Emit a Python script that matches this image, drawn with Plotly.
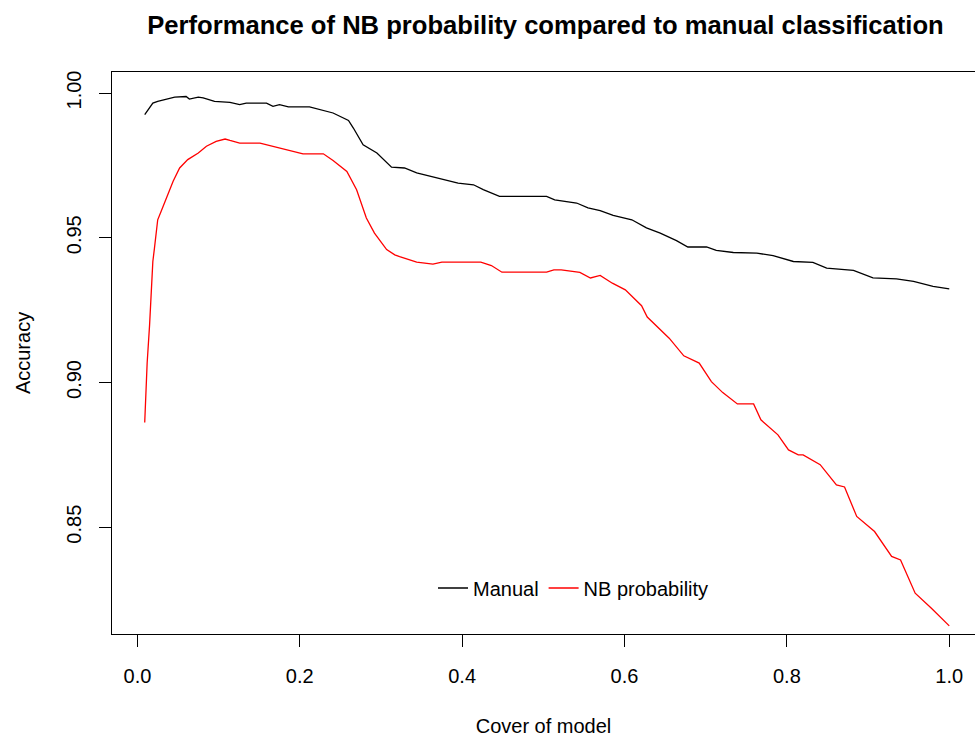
import plotly.graph_objects as go

# ---- Data ----
manual_x = [0.009, 0.019, 0.025, 0.034, 0.046, 0.060, 0.064, 0.075, 0.081, 0.095,
            0.114, 0.126, 0.134, 0.159, 0.167, 0.175, 0.186, 0.212, 0.225, 0.241,
            0.260, 0.266, 0.278, 0.295, 0.313, 0.329, 0.344, 0.364, 0.381, 0.395,
            0.414, 0.426, 0.446, 0.504, 0.514, 0.541, 0.555, 0.570, 0.586, 0.609,
            0.627, 0.644, 0.664, 0.678, 0.701, 0.713, 0.734, 0.763, 0.783, 0.808,
            0.832, 0.849, 0.882, 0.906, 0.935, 0.956, 0.980, 1.000]
manual_y = [0.9925, 0.9965, 0.9971, 0.9977, 0.9986, 0.9988, 0.9979, 0.9986, 0.9983, 0.9971,
            0.9968, 0.9960, 0.9965, 0.9965, 0.9954, 0.9960, 0.9952, 0.9952, 0.9942, 0.9931,
            0.9905, 0.9879, 0.9821, 0.9793, 0.9744, 0.9741, 0.9724, 0.9710, 0.9700, 0.9689,
            0.9683, 0.9666, 0.9643, 0.9643, 0.9631, 0.9620, 0.9603, 0.9594, 0.9577, 0.9562,
            0.9534, 0.9516, 0.9490, 0.9468, 0.9468, 0.9456, 0.9449, 0.9447, 0.9438, 0.9418,
            0.9415, 0.9395, 0.9387, 0.9361, 0.9358, 0.9349, 0.9332, 0.9323]

nb_x = [0.009, 0.010, 0.012, 0.015, 0.017, 0.019, 0.021, 0.025, 0.030, 0.036,
        0.044, 0.052, 0.062, 0.075, 0.085, 0.097, 0.108, 0.114, 0.126, 0.151,
        0.175, 0.192, 0.204, 0.229, 0.241, 0.258, 0.270, 0.282, 0.292, 0.307,
        0.317, 0.323, 0.344, 0.364, 0.375, 0.423, 0.436, 0.449, 0.504, 0.513,
        0.522, 0.545, 0.558, 0.570, 0.585, 0.601, 0.621, 0.628, 0.655, 0.673,
        0.692, 0.707, 0.721, 0.739, 0.759, 0.768, 0.789, 0.802, 0.814, 0.820,
        0.841, 0.861, 0.871, 0.886, 0.908, 0.929, 0.940, 0.958, 0.978, 1.000]
nb_y = [0.8862, 0.8931, 0.9067, 0.9199, 0.9332, 0.9418, 0.9464, 0.9562, 0.9597, 0.9637,
        0.9695, 0.9741, 0.9770, 0.9793, 0.9816, 0.9833, 0.9841, 0.9836, 0.9827, 0.9827,
        0.9810, 0.9798, 0.9790, 0.9790, 0.9767, 0.9729, 0.9666, 0.9568, 0.9516, 0.9459,
        0.9441, 0.9435, 0.9416, 0.9409, 0.9416, 0.9416, 0.9404, 0.9381, 0.9381, 0.9389,
        0.9389, 0.9380, 0.9361, 0.9370, 0.9343, 0.9320, 0.9265, 0.9226, 0.9153, 0.9092,
        0.9067, 0.9003, 0.8965, 0.8926, 0.8926, 0.8871, 0.8819, 0.8767, 0.8750, 0.8750,
        0.8716, 0.8646, 0.8639, 0.8537, 0.8485, 0.8399, 0.8387, 0.8272, 0.8220, 0.8159]

x_ticks = [0.0, 0.2, 0.4, 0.6, 0.8, 1.0]
x_tick_labels = ["0.0", "0.2", "0.4", "0.6", "0.8", "1.0"]
y_ticks = [0.85, 0.90, 0.95, 1.00]
y_tick_labels = ["0.85", "0.90", "0.95", "1.00"]

FONT = "Liberation Sans, Arial, sans-serif"

fig = go.Figure()
fig.add_trace(go.Scatter(x=manual_x, y=manual_y, mode="lines", name="Manual",
                         line=dict(color="black", width=1.3)))
fig.add_trace(go.Scatter(x=nb_x, y=nb_y, mode="lines", name="NB probability",
                         line=dict(color="#ff0000", width=1.3)))

fig.update_layout(
    width=975, height=737,
    margin=dict(l=112, r=0, t=72, b=103),
    paper_bgcolor="white", plot_bgcolor="white",
    font=dict(family=FONT, size=20, color="black"),
    title=dict(text="<b>Performance of NB probability compared to manual classification</b>",
               xref="container", x=545.5 / 975, xanchor="center",
               yref="container", y=1 - 25 / 737, yanchor="middle",
               font=dict(family=FONT, size=25.6, color="black")),
    showlegend=True,
    legend=dict(orientation="h", x=(433 - 112) / 863, xanchor="left",
                y=(634 - 588) / 562, yanchor="middle",
                bgcolor="rgba(0,0,0,0)", font=dict(size=20, family=FONT),
                itemwidth=30),
)

fig.update_xaxes(
    range=[-0.0313, 1.0317], tickmode="array", tickvals=x_ticks, ticktext=x_tick_labels,
    ticks="outside", ticklen=12, tickwidth=1, tickcolor="black",
    showline=True, linecolor="black", linewidth=1.3, mirror=True,
    showgrid=False, zeroline=False, ticklabelstandoff=12,
    title=dict(text="Cover of model", standoff=32, font=dict(size=20, family=FONT)),
)
fig.update_yaxes(
    range=[0.8131, 1.00726], tickmode="array", tickvals=y_ticks, ticktext=y_tick_labels,
    ticks="outside", ticklen=12, tickwidth=1, tickcolor="black", tickangle=-90,
    showline=True, linecolor="black", linewidth=1.3, mirror=False,
    showgrid=False, zeroline=False, ticklabelstandoff=10,
    title=dict(text="Accuracy", standoff=26, font=dict(size=20, family=FONT)),
)

fig.write_html("out.html")
